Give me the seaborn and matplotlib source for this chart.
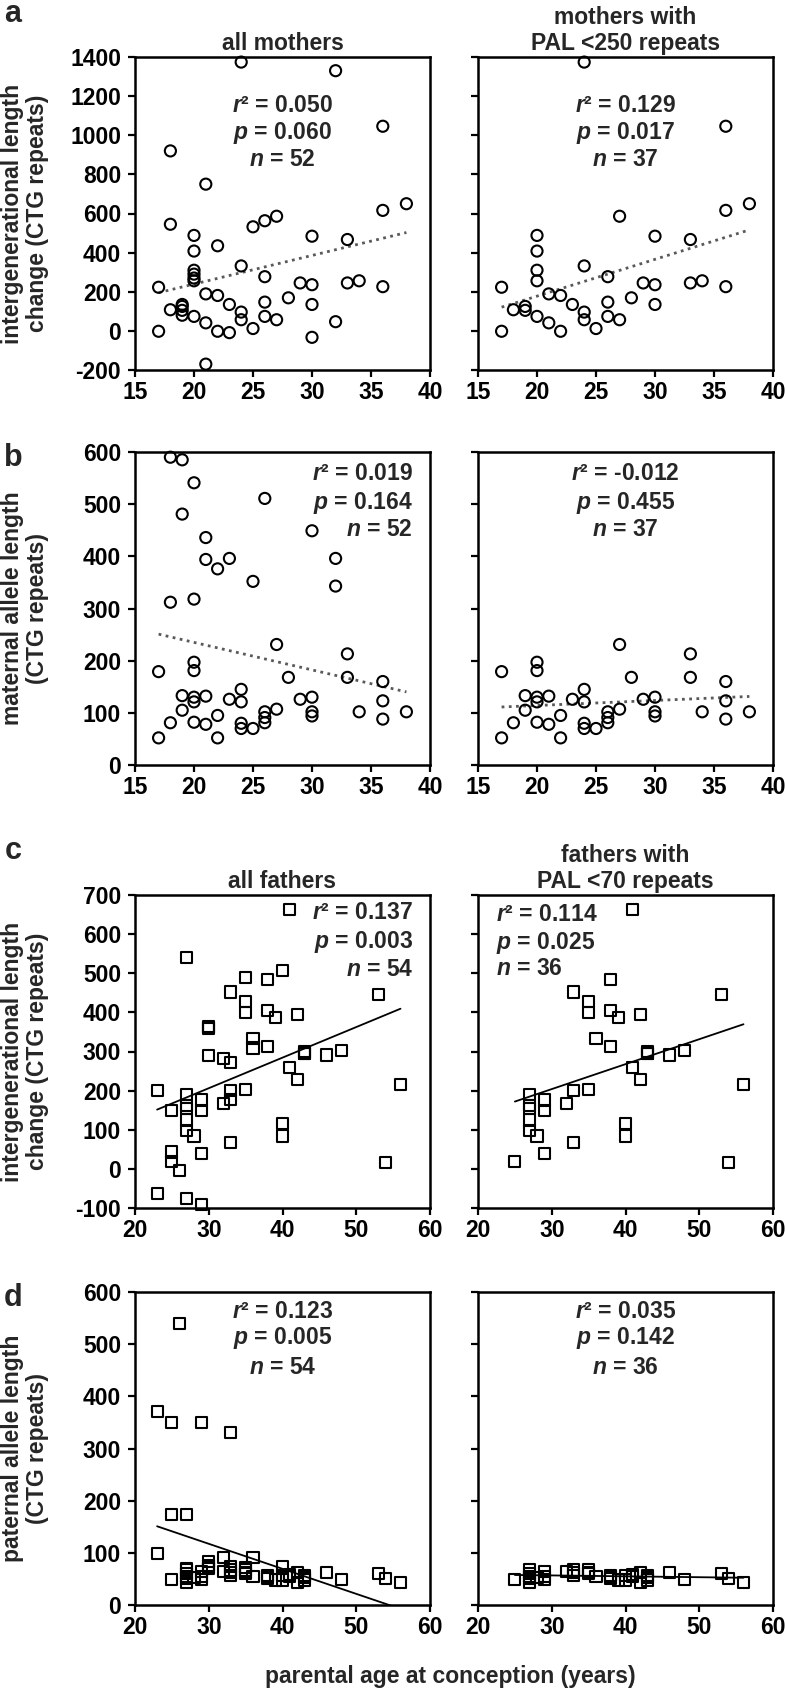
import matplotlib
matplotlib.use('Agg')
import matplotlib.pyplot as plt
import numpy as np
import seaborn as sns

# mothers: age at conception, intergenerational change, maternal allele length (PAL)
mother_age = [17, 17, 18, 19, 19, 20, 20, 20, 20, 20, 21, 21, 22, 22, 23, 24, 24, 24, 24, 25,
              26, 26, 26, 27, 27, 28, 29, 30, 30, 30, 33, 33, 34, 36, 36, 36, 38,
              18, 18, 19, 19, 20, 20, 21, 21, 22, 23, 25, 26, 30, 32, 32]
mother_change = [223, -2, 108, 125, 105, 488, 408, 310, 256, 74, 189, 41, 181, -2, 135, 1374, 332, 96, 57, 12,
                 277, 147, 74, 586, 57, 169, 245, 484, 236, 135, 467, 245, 256, 1046, 616, 226, 650,
                 920, 545, 135, 80, 290, 270, 750, -170, 435, -9, 532, 563, -33, 1330, 47]
mother_pal = [179, 52, 81, 133, 105, 197, 181, 130, 121, 82, 132, 78, 95, 52, 126, 145, 121, 80, 70, 70,
              102, 91, 81, 231, 107, 168, 126, 130, 102, 94, 213, 168, 102, 160, 123, 88, 102,
              590, 312, 585, 481, 541, 318, 436, 394, 376, 396, 352, 511, 449, 396, 343]

# fathers: age at conception, intergenerational change, paternal allele length (PAL)
father_age = [25, 27, 27, 27, 27, 27, 28, 29, 29, 29, 32, 33, 33, 33, 35, 35, 35, 36, 38, 38, 38, 39,
              40, 40, 41, 41, 42, 42, 43, 43, 43, 46, 48, 53, 54, 56,
              23, 23, 25, 25, 26, 27, 27, 29, 30, 30, 30, 30, 32, 33, 33, 35, 36, 40]
father_change = [19, 191, 161, 125, 98, 155, 84, 176, 150, 40, 168, 452, 201, 68, 428, 399, 204, 334, 483, 405, 313, 387,
                 117, 84, 664, 260, 394, 228, 296, 300, 294, 291, 302, 445, 17, 215,
                 201, -64, 150, 43, -4, 540, -76, -91, 364, 358, 289, 362, 282, 271, 177, 489, 309, 508]
father_pal = [49, 68, 54, 43, 50, 60, 52, 64, 49, 55, 64, 67, 57, 62, 67, 61, 63, 55, 57, 51, 55, 48,
              57, 48, 59, 55, 62, 43, 57, 48, 52, 62, 49, 61, 51, 43,
              371, 99, 350, 173, 539, 173, 70, 350, 83, 70, 72, 76, 91, 331, 73, 72, 91, 73]

stats_a = [('0.050', '0.060', '52'), ('0.129', '0.017', '37')]
stats_b = [('0.019', '0.164', '52'), ('-0.012', '0.455', '37')]
stats_c = [('0.137', '0.003', '54'), ('0.114', '0.025', '36')]
stats_d = [('0.123', '0.005', '54'), ('0.035', '0.142', '36')]

mother_age = np.array(mother_age)
mother_change = np.array(mother_change)
mother_pal = np.array(mother_pal)
father_age = np.array(father_age)
father_change = np.array(father_change)
father_pal = np.array(father_pal)
m_sub = mother_pal < 250
f_sub = father_pal < 70

sns.set_style('ticks')
plt.rcParams['font.family'] = ['Liberation Sans', 'DejaVu Sans']
plt.rcParams['font.weight'] = 'bold'
plt.rcParams['axes.unicode_minus'] = False
plt.rcParams['mathtext.fontset'] = 'custom'
plt.rcParams['mathtext.rm'] = 'Liberation Sans:bold'
plt.rcParams['mathtext.it'] = 'Liberation Sans:italic:bold'
plt.rcParams['mathtext.bf'] = 'Liberation Sans:bold'

W, H = 785, 1689
fig = plt.figure(figsize=(W / 100, H / 100), dpi=100)
FS = 16.5


def make_ax(x0, top):
    return fig.add_axes([x0 / W, 1 - (top + 313) / H, 295 / W, 313 / H])


def style(ax, xlim, xstep, ylim, ystep, left):
    ax.set_xlim(xlim)
    ax.set_ylim(ylim)
    ax.set_xticks(np.arange(xlim[0], xlim[1] + 1, xstep))
    ax.set_yticks(np.arange(ylim[0], ylim[1] + 1, ystep))
    for s in ax.spines.values():
        s.set_linewidth(1.8)
        s.set_color('black')
    ax.tick_params(direction='out', length=5, width=1.6, labelsize=FS, colors='black')
    ax.tick_params(axis='x', pad=3)
    ax.tick_params(axis='y', pad=5)
    if not left:
        ax.tick_params(labelleft=False)
    ax.set_xlabel('')
    ax.set_ylabel('')


def draw(ax, x, y, marker, dotted):
    sns.scatterplot(x=x, y=y, ax=ax, marker=marker, s=64, facecolors='none',
                    edgecolor='black', linewidth=1.5, clip_on=False, zorder=3)
    if dotted:
        kws = dict(color='0.35', lw=2.0, linestyle=(0, (1, 1.6)))
    else:
        kws = dict(color='black', lw=1.3)
    sns.regplot(x=x, y=y, ax=ax, scatter=False, ci=None, truncate=True, line_kws=kws)


def stats(ax, st, offs, x=0.5, ha='center'):
    lines = [r'$r$² = ' + st[0], r'$p$ = ' + st[1], r'$n$ = ' + st[2]]
    for t, o in zip(lines, offs):
        ax.text(x, 1 - o / 313, t, transform=ax.transAxes, ha=ha, va='center',
                fontsize=FS, fontweight='bold')


def ylab(ax, text):
    ax.set_ylabel(text, fontsize=FS, fontweight='bold', linespacing=1.15)
    ax.yaxis.set_label_coords(-0.29, 0.5)


LX, RX = 135, 478

# row a
ax = make_ax(LX, 57)
draw(ax, mother_age, mother_change, 'o', True)
style(ax, (15, 40), 5, (-200, 1400), 200, True)
ax.set_title('all mothers', fontsize=FS, fontweight='bold', pad=5)
stats(ax, stats_a[0], (48, 76, 103))
ylab(ax, 'intergenerational length\nchange (CTG repeats)')

ax = make_ax(RX, 57)
draw(ax, mother_age[m_sub], mother_change[m_sub], 'o', True)
style(ax, (15, 40), 5, (-200, 1400), 200, False)
ax.set_title('mothers with\nPAL <250 repeats', fontsize=FS, fontweight='bold', pad=5, linespacing=1.15)
stats(ax, stats_a[1], (48, 76, 103))

# row b
ax = make_ax(LX, 452)
draw(ax, mother_age, mother_pal, 'o', True)
style(ax, (15, 40), 5, (0, 600), 100, True)
stats(ax, stats_b[0], (22, 51, 78), x=0.942, ha='right')
ylab(ax, 'maternal allele length\n(CTG repeats)')

ax = make_ax(RX, 452)
draw(ax, mother_age[m_sub], mother_pal[m_sub], 'o', True)
style(ax, (15, 40), 5, (0, 600), 100, False)
stats(ax, stats_b[1], (22, 51, 78))

# row c
ax = make_ax(LX, 895)
draw(ax, father_age, father_change, 's', False)
style(ax, (20, 60), 10, (-100, 700), 100, True)
ax.set_title('all fathers', fontsize=FS, fontweight='bold', pad=5)
stats(ax, stats_c[0], (18, 47, 75), x=0.942, ha='right')
ylab(ax, 'intergenerational length\nchange (CTG repeats)')

ax = make_ax(RX, 895)
draw(ax, father_age[f_sub], father_change[f_sub], 's', False)
style(ax, (20, 60), 10, (-100, 700), 100, False)
ax.set_title('fathers with\nPAL <70 repeats', fontsize=FS, fontweight='bold', pad=5, linespacing=1.15)
stats(ax, stats_c[1], (20, 48, 74), x=0.061, ha='left')

# row d
ax = make_ax(LX, 1292)
draw(ax, father_age, father_pal, 's', False)
style(ax, (20, 60), 10, (0, 600), 100, True)
stats(ax, stats_d[0], (20, 46, 75))
ylab(ax, 'paternal allele length\n(CTG repeats)')

ax = make_ax(RX, 1292)
draw(ax, father_age[f_sub], father_pal[f_sub], 's', False)
style(ax, (20, 60), 10, (0, 600), 100, False)
stats(ax, stats_d[1], (20, 46, 75))

# panel letters and shared x label
for letter, y in [('a', 14), ('b', 458), ('c', 851), ('d', 1298)]:
    fig.text(13 / W, 1 - y / H, letter, fontsize=22, fontweight='bold', ha='center', va='center')
fig.text(450 / W, 1 - 1677 / H, 'parental age at conception (years)', fontsize=FS,
         fontweight='bold', ha='center', va='center')

fig.savefig('out.png', dpi=100)
